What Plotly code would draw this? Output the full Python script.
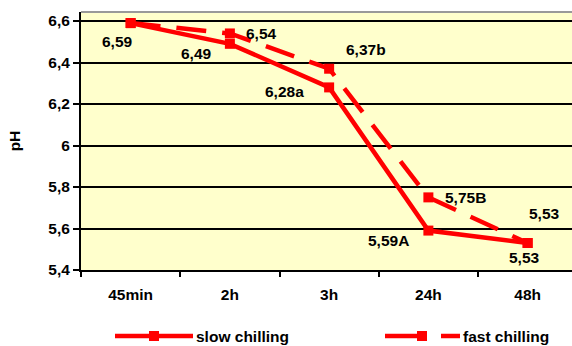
import plotly.graph_objects as go

categories = ["45min", "2h", "3h", "24h", "48h"]
slow_values = [6.59, 6.49, 6.28, 5.59, 5.53]
fast_values = [6.59, 6.54, 6.37, 5.75, 5.53]
slow_labels = ["6,59", "6,49", "6,28a", "5,59A", "5,53"]
fast_labels = [None, "6,54", "6,37b", "5,75B", "5,53"]
y_tick_vals = [5.4, 5.6, 5.8, 6.0, 6.2, 6.4, 6.6]
y_tick_text = ["5,4", "5,6", "5,8", "6", "6,2", "6,4", "6,6"]
series_names = ["slow chilling", "fast chilling"]

RED = "#FF0000"
FONT = "Arial, Liberation Sans, sans-serif"
FS = 15.5
W, H = 572, 346
ML, MR, MT, MB = 81, 0, 12, 76
PW = W - ML - MR
PH = H - MT - MB

def px_x(px):
    return (px - ML) / PW

def px_y(py):
    return (H - MB - py) / PH

fig = go.Figure()
fig.add_trace(go.Scatter(
    x=categories, y=slow_values, mode="lines+markers", name=series_names[0],
    line=dict(color=RED, width=4.5),
    marker=dict(symbol="square", size=10, color=RED),
    showlegend=False,
))
fig.add_trace(go.Scatter(
    x=categories, y=fast_values, mode="lines+markers", name=series_names[1],
    line=dict(color=RED, width=4.5, dash="30px,16px"),
    marker=dict(symbol="square", size=10, color=RED),
    showlegend=False,
))

# label offsets (pixels) relative to points
slow_off = [(-13, -18), (-33, -10), (-45, -4), (-40, -10), (-3, -14)]
fast_off = [(0, 0), (32, 0), (37, 19), (37, 0), (17, 30)]
lab_font = dict(family=FONT, size=FS, color="black")
for i, c in enumerate(categories):
    if slow_labels[i]:
        fig.add_annotation(x=c, y=slow_values[i], text="<b>%s</b>" % slow_labels[i],
                           showarrow=False, xshift=slow_off[i][0], yshift=slow_off[i][1], font=lab_font)
    if fast_labels[i]:
        fig.add_annotation(x=c, y=fast_values[i], text="<b>%s</b>" % fast_labels[i],
                           showarrow=False, xshift=fast_off[i][0], yshift=fast_off[i][1], font=lab_font)

# top border of plot area
fig.add_shape(type="line", xref="paper", yref="paper", x0=0, x1=1, y0=1, y1=1,
              line=dict(color="#999999", width=2))

# manual legend
ly = px_y(336)
fig.add_shape(type="line", xref="paper", yref="paper", x0=px_x(115), x1=px_x(193), y0=ly, y1=ly,
              line=dict(color=RED, width=4.5))
fig.add_shape(type="rect", xref="paper", yref="paper", x0=px_x(149), x1=px_x(159),
              y0=px_y(341), y1=px_y(331), line=dict(width=0), fillcolor=RED)
fig.add_annotation(xref="paper", yref="paper", x=px_x(194), y=ly, xanchor="left", yanchor="middle",
                   text="<b>%s</b>" % series_names[0], showarrow=False, font=lab_font)
fig.add_shape(type="line", xref="paper", yref="paper", x0=px_x(385), x1=px_x(417), y0=ly, y1=ly,
              line=dict(color=RED, width=4.5))
fig.add_shape(type="line", xref="paper", yref="paper", x0=px_x(441), x1=px_x(460), y0=ly, y1=ly,
              line=dict(color=RED, width=4.5))
fig.add_shape(type="rect", xref="paper", yref="paper", x0=px_x(417), x1=px_x(427),
              y0=px_y(341), y1=px_y(331), line=dict(width=0), fillcolor=RED)
fig.add_annotation(xref="paper", yref="paper", x=px_x(461), y=ly, xanchor="left", yanchor="middle",
                   text="<b>%s</b>" % series_names[1], showarrow=False, font=lab_font)

cat_px = 99.25
fig.update_layout(
    width=W, height=H,
    margin=dict(l=ML, r=MR, t=MT, b=MB, pad=0),
    paper_bgcolor="white", plot_bgcolor="#FFFFCC",
    font=dict(family=FONT, size=FS, color="black"),
    xaxis=dict(
        type="category", range=[-0.5, -0.5 + PW / cat_px],
        tickson="boundaries", ticks="outside", ticklen=5, tickwidth=2, tickcolor="black",
        showline=True, linecolor="black", linewidth=2, showgrid=False,
        tickfont=dict(family=FONT, size=FS, color="black"),
        ticklabelstandoff=9, fixedrange=True,
    ),
    yaxis=dict(
        range=[5.4, 6.6 + 9 / 207.5],
        tickvals=y_tick_vals, ticktext=["<b>%s</b>" % t for t in y_tick_text],
        ticks="outside", ticklen=6, tickwidth=2, tickcolor="black",
        showline=True, linecolor="black", linewidth=2,
        showgrid=True, gridcolor="black", gridwidth=2, zeroline=False,
        tickfont=dict(family=FONT, size=FS, color="black"),
        title=dict(text="<b>pH</b>", font=dict(family=FONT, size=FS, color="black"), standoff=24),
    ),
)
fig.update_xaxes(ticktext=["<b>%s</b>" % c for c in categories], tickvals=categories)

fig.write_html(
    "out.html",
    config={"displayModeBar": False},
    post_script="document.body.style.margin='0';document.body.style.overflow='hidden';",
)
